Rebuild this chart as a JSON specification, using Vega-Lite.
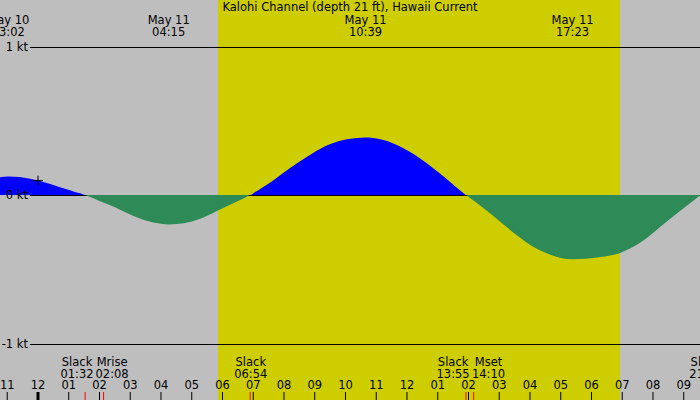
{
  "$schema": "https://vega.github.io/schema/vega-lite/v6.json",
  "width": 700,
  "height": 400,
  "autosize": {"type": "none"},
  "padding": 0,
  "background": "#BEBEBE",
  "config": {
    "view": {"stroke": null},
    "text": {"font": "DejaVu Sans", "fontSize": 11.5, "color": "black"}
  },
  "datasets": {
    "curve": [
      {"t": -1.23577, "v": 0.119}, {"t": -0.967, "v": 0.125}, {"t": -0.6, "v": 0.121}, {"t": -0.3, "v": 0.111},
      {"t": 0, "v": 0.097}, {"t": 0.4, "v": 0.074}, {"t": 0.93, "v": 0.038}, {"t": 1.2, "v": 0.021},
      {"t": 1.4, "v": 0.010}, {"t": 1.533, "v": 0}, {"t": 1.7, "v": -0.013}, {"t": 2.0, "v": -0.040},
      {"t": 2.5, "v": -0.082}, {"t": 3.0, "v": -0.131}, {"t": 3.5, "v": -0.171}, {"t": 4.0, "v": -0.194},
      {"t": 4.25, "v": -0.198}, {"t": 4.5, "v": -0.196}, {"t": 5.0, "v": -0.178}, {"t": 5.5, "v": -0.140},
      {"t": 5.85, "v": -0.105}, {"t": 6.4, "v": -0.050}, {"t": 6.75, "v": -0.017}, {"t": 6.9, "v": 0},
      {"t": 7.05, "v": 0.018}, {"t": 7.3, "v": 0.050}, {"t": 7.66, "v": 0.100}, {"t": 8.2, "v": 0.182},
      {"t": 8.75, "v": 0.258}, {"t": 9.29, "v": 0.324}, {"t": 9.83, "v": 0.366}, {"t": 10.37, "v": 0.384},
      {"t": 10.65, "v": 0.387}, {"t": 11.13, "v": 0.375}, {"t": 11.67, "v": 0.337}, {"t": 12.21, "v": 0.276},
      {"t": 12.76, "v": 0.195}, {"t": 13.3, "v": 0.106}, {"t": 13.6, "v": 0.052}, {"t": 13.8, "v": 0.019},
      {"t": 13.917, "v": 0}, {"t": 14.05, "v": -0.021}, {"t": 14.49, "v": -0.090}, {"t": 15.03, "v": -0.180},
      {"t": 15.58, "v": -0.272}, {"t": 16.12, "v": -0.350}, {"t": 16.66, "v": -0.402}, {"t": 17.0, "v": -0.424},
      {"t": 17.383, "v": -0.433}, {"t": 17.8, "v": -0.430}, {"t": 18.3, "v": -0.418}, {"t": 18.93, "v": -0.390},
      {"t": 19.58, "v": -0.322}, {"t": 20.24, "v": -0.213}, {"t": 20.9, "v": -0.105}, {"t": 21.52846, "v": -0.003}
    ],
    "daylight": [{"t": 5.854, "t2": 18.927}],
    "levels": [
      {"v": 1, "label": "1 kt"},
      {"v": 0, "label": "0 kt"},
      {"v": -1, "label": "-1 kt"}
    ],
    "extremes": [
      {"t": -0.967, "date": "May 10", "time": "23:02"},
      {"t": 4.25, "date": "May 11", "time": "04:15"},
      {"t": 10.65, "date": "May 11", "time": "10:39"},
      {"t": 17.383, "date": "May 11", "time": "17:23"}
    ],
    "events": [
      {"t": 1.533, "lt": 1.27, "name": "Slack", "time": "01:32"},
      {"t": 2.133, "lt": 2.41, "name": "Mrise", "time": "02:08"},
      {"t": 6.9, "lt": 6.92, "name": "Slack", "time": "06:54"},
      {"t": 13.917, "lt": 13.5, "name": "Slack", "time": "13:55"},
      {"t": 14.167, "lt": 14.65, "name": "Mset", "time": "14:10"},
      {"t": 21.73, "lt": 21.72, "name": "Slack", "time": "21:44"}
    ],
    "hours": [
      {"t": -1, "label": "11"}, {"t": 0, "label": "12"}, {"t": 1, "label": "01"}, {"t": 2, "label": "02"},
      {"t": 3, "label": "03"}, {"t": 4, "label": "04"}, {"t": 5, "label": "05"}, {"t": 6, "label": "06"},
      {"t": 7, "label": "07"}, {"t": 8, "label": "08"}, {"t": 9, "label": "09"}, {"t": 10, "label": "10"},
      {"t": 11, "label": "11"}, {"t": 12, "label": "12"}, {"t": 13, "label": "01"}, {"t": 14, "label": "02"},
      {"t": 15, "label": "03"}, {"t": 16, "label": "04"}, {"t": 17, "label": "05"}, {"t": 18, "label": "06"},
      {"t": 19, "label": "07"}, {"t": 20, "label": "08"}, {"t": 21, "label": "09"}
    ]
  },
  "layer": [
    {
      "data": {"name": "daylight"},
      "mark": {"type": "rect", "color": "#CDCD00"},
      "encoding": {
        "x": {"field": "t", "type": "quantitative", "scale": {"domain": [-1.23577, 21.52846], "nice": false, "zero": false}, "axis": null},
        "x2": {"field": "t2"},
        "y": {"datum": 1.31313, "type": "quantitative", "scale": {"domain": [-1.38047, 1.31313], "nice": false, "zero": false}, "axis": null},
        "y2": {"datum": -1.38047}
      }
    },
    {
      "data": {"name": "levels"},
      "transform": [{"filter": "datum.v !== 0"}],
      "mark": {"type": "rule", "color": "black", "strokeWidth": 1, "yOffset": 1},
      "encoding": {
        "x": {"datum": -0.2602, "type": "quantitative"},
        "x2": {"datum": 21.52846},
        "y": {"field": "v", "type": "quantitative"}
      }
    },
    {
      "data": {"name": "curve"},
      "transform": [{"filter": "datum.v >= 0"}],
      "mark": {"type": "area", "color": "#0000FF", "interpolate": "monotone", "opacity": 1},
      "encoding": {
        "x": {"field": "t", "type": "quantitative"},
        "y": {"field": "v", "type": "quantitative"},
        "y2": {"datum": 0}
      }
    },
    {
      "data": {"name": "levels"},
      "transform": [{"filter": "datum.v === 0"}],
      "mark": {"type": "rule", "color": "black", "strokeWidth": 1, "yOffset": 0.5},
      "encoding": {
        "x": {"datum": -0.2602, "type": "quantitative"},
        "x2": {"datum": 21.52846},
        "y": {"field": "v", "type": "quantitative"}
      }
    },
    {
      "data": {"name": "curve"},
      "transform": [{"filter": "datum.v <= 0"}],
      "mark": {"type": "area", "color": "#2E8B57", "interpolate": "monotone", "opacity": 1},
      "encoding": {
        "x": {"field": "t", "type": "quantitative"},
        "y": {"field": "v", "type": "quantitative"},
        "y2": {"datum": 0}
      }
    },
    {
      "data": {"name": "levels"},
      "mark": {"type": "text", "align": "right", "baseline": "alphabetic", "dy": 4.3},
      "encoding": {
        "x": {"datum": -0.3252, "type": "quantitative"},
        "y": {"field": "v", "type": "quantitative"},
        "text": {"field": "label"}
      }
    },
    {
      "data": {"values": [{"t": 0, "v": 0.097}]},
      "mark": {"type": "point", "shape": "M-1,0L1,0M0,-1L0,1", "size": 100, "filled": false, "color": "black", "strokeWidth": 1, "opacity": 1},
      "encoding": {
        "x": {"field": "t", "type": "quantitative"},
        "y": {"field": "v", "type": "quantitative"}
      }
    },
    {
      "data": {"values": [{}]},
      "mark": {"type": "text", "text": "Kalohi Channel (depth 21 ft), Hawaii Current", "align": "center", "baseline": "alphabetic"},
      "encoding": {
        "x": {"datum": 10.1463, "type": "quantitative"},
        "y": {"datum": 1.2391, "type": "quantitative"}
      }
    },
    {
      "data": {"name": "extremes"},
      "mark": {"type": "text", "align": "center", "baseline": "alphabetic"},
      "encoding": {
        "x": {"field": "t", "type": "quantitative"},
        "y": {"datum": 1.1515, "type": "quantitative"},
        "text": {"field": "date"}
      }
    },
    {
      "data": {"name": "extremes"},
      "mark": {"type": "text", "align": "center", "baseline": "alphabetic"},
      "encoding": {
        "x": {"field": "t", "type": "quantitative"},
        "y": {"datum": 1.0707, "type": "quantitative"},
        "text": {"field": "time"}
      }
    },
    {
      "data": {"name": "events"},
      "mark": {"type": "text", "align": "center", "baseline": "alphabetic"},
      "encoding": {
        "x": {"field": "lt", "type": "quantitative"},
        "y": {"datum": -1.1502, "type": "quantitative"},
        "text": {"field": "name"}
      }
    },
    {
      "data": {"name": "events"},
      "mark": {"type": "text", "align": "center", "baseline": "alphabetic"},
      "encoding": {
        "x": {"field": "lt", "type": "quantitative"},
        "y": {"datum": -1.2303, "type": "quantitative"},
        "text": {"field": "time"}
      }
    },
    {
      "data": {"name": "hours"},
      "mark": {"type": "rule", "color": "black"},
      "encoding": {
        "x": {"field": "t", "type": "quantitative"},
        "y": {"datum": -1.3266, "type": "quantitative"},
        "y2": {"datum": -1.38047},
        "strokeWidth": {"condition": {"test": "datum.t === 0", "value": 3}, "value": 1}
      }
    },
    {
      "data": {"name": "hours"},
      "mark": {"type": "text", "align": "center", "baseline": "alphabetic"},
      "encoding": {
        "x": {"field": "t", "type": "quantitative"},
        "y": {"datum": -1.3077, "type": "quantitative"},
        "text": {"field": "label"}
      }
    },
    {
      "data": {"name": "events"},
      "transform": [{"filter": "datum.t < 21.5"}],
      "mark": {"type": "rule", "color": "#FF0000", "strokeWidth": 1},
      "encoding": {
        "x": {"field": "t", "type": "quantitative"},
        "y": {"datum": -1.3266, "type": "quantitative"},
        "y2": {"datum": -1.38047}
      }
    }
  ]
}
